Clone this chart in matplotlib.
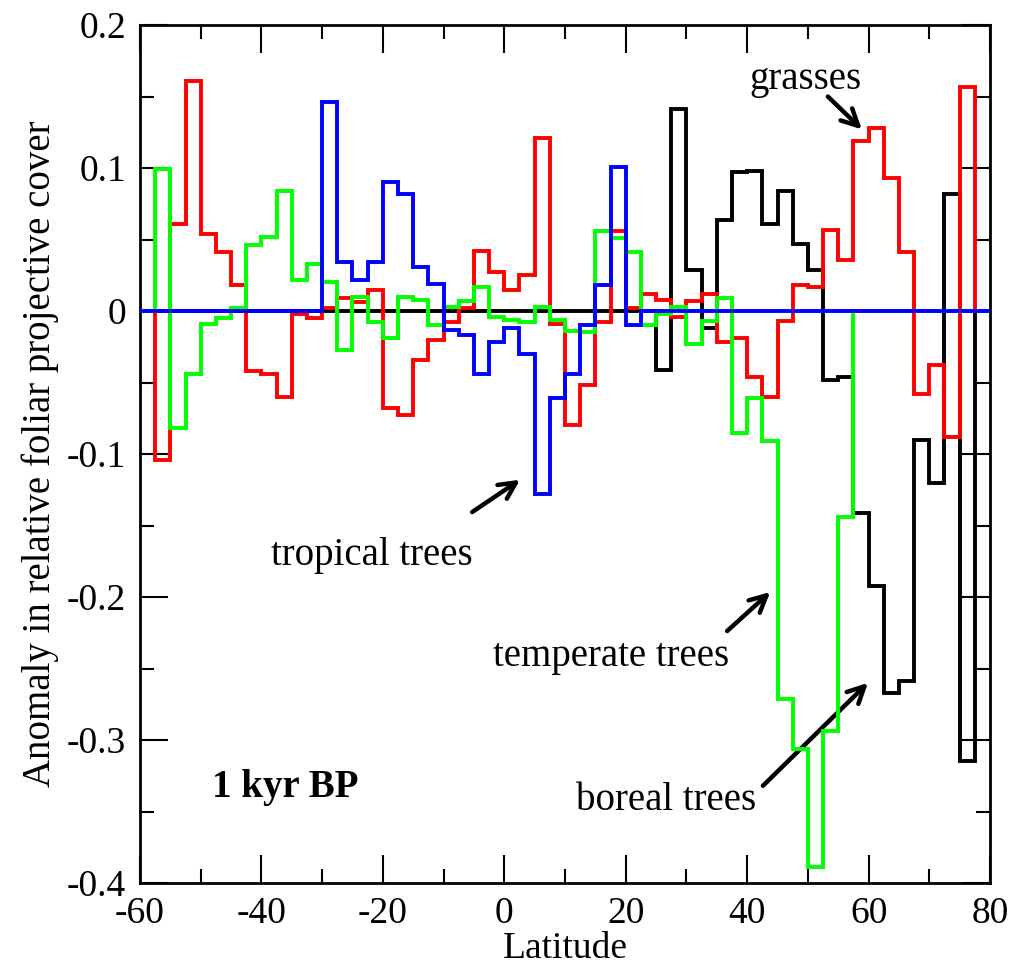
import numpy as np
import matplotlib.pyplot as plt

plt.rcParams["font.family"] = "serif"
plt.rcParams["font.serif"] = ["Liberation Serif", "Times New Roman", "Nimbus Roman",
                              "DejaVu Serif"]
plt.rcParams["axes.unicode_minus"] = False

# latitude bins, 2.5 degrees wide
edges = np.arange(-60, 80.1, 2.5)

grasses = [0, -0.104, 0.061, 0.161, 0.054, 0.041, 0.018, -0.042, -0.044, -0.060,
           -0.002, -0.005, 0.002, 0.009, 0.006, 0.015, -0.068, -0.073, -0.034, -0.020,
           -0.008, 0.002, 0.042, 0.027, 0.015, 0.025, 0.121, -0.009, -0.080, -0.052,
           -0.008, 0.056, 0.002, 0.012, 0.008, -0.004, 0.007, 0.012, -0.022, -0.019,
           -0.046, -0.060, -0.007, 0.018, 0.017, 0.057, 0.036, 0.119, 0.128, 0.093,
           0.041, -0.058, -0.038, -0.088, 0.157, 0]

temperate = [0, 0.099, -0.082, -0.044, -0.009, -0.005, 0.002, 0.046, 0.052, 0.084,
             0.022, 0.033, 0.020, -0.027, 0.010, -0.008, -0.019, 0.010, 0.008, -0.010,
             0.003, 0.007, 0.017, -0.004, -0.006, -0.008, 0.003, -0.006, -0.014, -0.015,
             0.056, 0.051, 0.041, -0.010, -0.002, 0.003, -0.023, -0.007, 0.009, -0.085,
             -0.061, -0.091, -0.271, -0.306, -0.389, -0.294, -0.144, 0, 0, 0,
             0, 0, 0, 0, 0, 0]

boreal = [0] * 34 + [-0.041, 0.141, 0.029, -0.012, 0.064, 0.097, 0.098, 0.061, 0.084,
                     0.047, 0.029, -0.048, -0.046, -0.141, -0.192, -0.267, -0.259,
                     -0.090, -0.120, 0.082, -0.315, 0]

tropical = [0] * 12 + [0.146, 0.034, 0.022, 0.034, 0.090, 0.082, 0.031, 0.019, -0.013,
                       -0.017, -0.044, -0.022, -0.012, -0.030, -0.128, -0.061, -0.044,
                       -0.010, 0.018, 0.101, -0.010] + [0] * 23

xticks = [-60, -40, -20, 0, 20, 40, 60, 80]
yticks = [-0.4, -0.3, -0.2, -0.1, 0, 0.1, 0.2]
ylabels = ["-0.4", "-0.3", "-0.2", "-0.1", "0", "0.1", "0.2"]

fig = plt.figure(figsize=(10.13, 9.74), dpi=100)
ax = fig.add_axes([0.1382, 0.0934, 0.8391, 0.8809])

lw = 2.8
ax.stairs(boreal, edges, color="black", lw=lw, zorder=2)
ax.stairs(grasses, edges, color="#ff0000", lw=lw, zorder=3)
ax.stairs(temperate, edges, color="#00ff00", lw=lw, zorder=4)
ax.stairs(tropical, edges, color="#0000ff", lw=lw, zorder=5)

ax.set_xlim(-60, 80)
ax.set_ylim(-0.4, 0.2)
ax.set_xticks(xticks)
ax.set_xticklabels([str(v) for v in xticks])
ax.set_yticks(yticks)
ax.set_yticklabels(ylabels)
ax.set_xticks(np.arange(-60, 81, 10), minor=True)
ax.set_yticks(np.arange(-0.4, 0.201, 0.05), minor=True)
ax.tick_params(which="both", direction="in", top=True, right=True, width=1.5)
ax.tick_params(which="major", length=20, labelsize=27, pad=10)
ax.tick_params(which="minor", length=10)
for s in ax.spines.values():
    s.set_linewidth(2)

ax.set_xlabel("Latitude", fontsize=27, labelpad=0)
ax.set_ylabel("Anomaly in relative foliar projective cover", fontsize=28, labelpad=6)

arrow = dict(arrowstyle="->,head_length=0.6,head_width=0.3", color="black", lw=3.2,
             shrinkA=0, shrinkB=0, mutation_scale=20)
ax.annotate("", xy=(58.9, 0.127), xytext=(53.3, 0.150), arrowprops=arrow)
ax.text(49.6, 0.162, "grasses", fontsize=28, ha="center", va="center")

ax.annotate("", xy=(2.6, -0.118), xytext=(-5.3, -0.1406), arrowprops=arrow)
ax.text(-21.9, -0.1776, "tropical trees", fontsize=28, ha="center", va="baseline")

ax.annotate("", xy=(43.8, -0.1965), xytext=(36.7, -0.2238), arrowprops=arrow)
ax.text(17.6, -0.2483, "temperate trees", fontsize=28, ha="center", va="baseline")

ax.annotate("", xy=(59.9, -0.260), xytext=(42.6, -0.332), arrowprops=arrow)
ax.text(26.6, -0.349, "boreal trees", fontsize=28, ha="center", va="baseline")

ax.text(-36.1, -0.340, "1 kyr BP", fontsize=28, fontweight="bold", ha="center",
        va="baseline")

fig.savefig("out.png", dpi=100)
